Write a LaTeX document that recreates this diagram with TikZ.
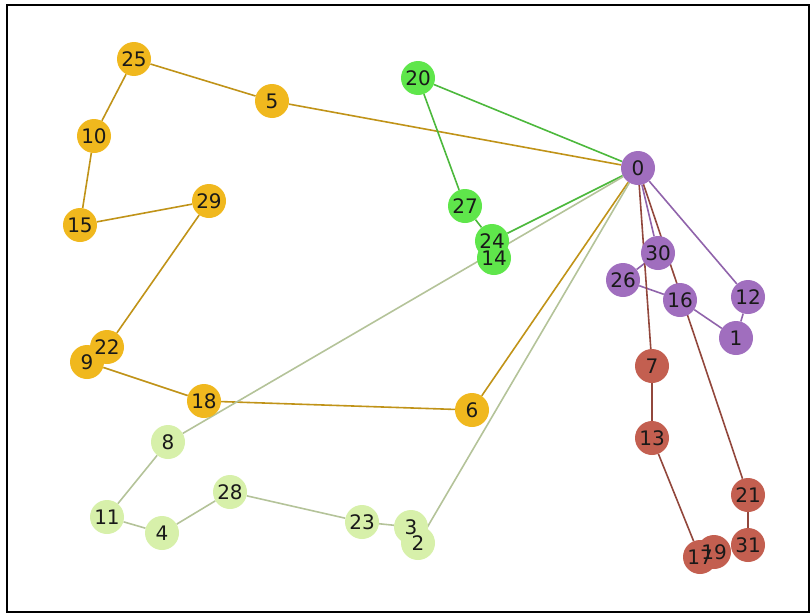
\documentclass[tikz,border=0pt]{standalone}
\usepackage{fontspec}
\setmainfont{DejaVu Sans}
\definecolor{cOrange}{RGB}{240,184,30}
\definecolor{cGreen}{RGB}{95,230,75}
\definecolor{cLight}{RGB}{215,240,170}
\definecolor{cPurple}{RGB}{160,110,190}
\definecolor{cRed}{RGB}{195,95,80}
\pgfdeclarelayer{bg}
\pgfsetlayers{bg,main}

\begin{document}
\begin{tikzpicture}[x=1pt,y=-1pt,
        vtx/.style={circle,inner sep=0pt,minimum size=34pt},
        orangenode/.style={vtx,fill=cOrange},
        greennode/.style={vtx,fill=cGreen},
        lightnode/.style={vtx,fill=cLight},
        purplenode/.style={vtx,fill=cPurple},
        rednode/.style={vtx,fill=cRed},
        vtxlabel/.style={font=\fontsize{20}{20}\selectfont,text=black!90},
        link/.style={line width=1.6pt},
        orangeedge/.style={link,draw=cOrange!80!black},
        greenedge/.style={link,draw=cGreen!80!black},
        lightedge/.style={link,draw=cLight!60!gray},
        purpleedge/.style={link,draw=cPurple!90!black},
        rededge/.style={link,draw=cRed!75!black}]

  \useasboundingbox (0,0) rectangle (810,613);
  \draw[line width=2.2pt] (7,5) rectangle (809,612);

  % orange group
  \node[orangenode] (n25) at (134,59)  {};
  \node[orangenode] (n5)  at (272,101) {};
  \node[orangenode] (n10) at (94,136)  {};
  \node[orangenode] (n15) at (80,225)  {};
  \node[orangenode] (n29) at (209,201) {};
  \node[orangenode] (n22) at (107,347) {};
  \node[orangenode] (n9)  at (87,362)  {};
  \node[orangenode] (n18) at (204,401) {};
  \node[orangenode] (n6)  at (472,410) {};

  % green group
  \node[greennode] (n20) at (418,78)  {};
  \node[greennode] (n27) at (465,206) {};
  \node[greennode] (n24) at (492,241) {};
  \node[greennode] (n14) at (494,258) {};

  % light green group
  \node[lightnode] (n8)  at (168,442) {};
  \node[lightnode] (n11) at (107,517) {};
  \node[lightnode] (n4)  at (162,533) {};
  \node[lightnode] (n28) at (230,492) {};
  \node[lightnode] (n23) at (362,522) {};
  \node[lightnode] (n3)  at (411,527) {};
  \node[lightnode] (n2)  at (418,543) {};

  % purple group
  \node[purplenode] (n0)  at (638,168) {};
  \node[purplenode] (n30) at (658,253) {};
  \node[purplenode] (n26) at (623,280) {};
  \node[purplenode] (n16) at (680,300) {};
  \node[purplenode] (n12) at (748,297) {};
  \node[purplenode] (n1)  at (736,338) {};

  % red group
  \node[rednode] (n7)  at (652,366) {};
  \node[rednode] (n13) at (652,438) {};
  \node[rednode] (n21) at (748,495) {};
  \node[rednode] (n31) at (748,545) {};
  \node[rednode] (n19) at (714,552) {};
  \node[rednode] (n17) at (700,557) {};

  % labels on top of all discs
  \foreach \n in {0,...,31}
    \node[vtxlabel] at (n\n) {\n};

  \begin{pgfonlayer}{bg}
  \path (n25) edge[orangeedge] (n5)
        (n5)  edge[orangeedge] (n0)
        (n25) edge[orangeedge] (n10)
        (n10) edge[orangeedge] (n15)
        (n15) edge[orangeedge] (n29)
        (n29) edge[orangeedge] (n22)
        (n9)  edge[orangeedge] (n18)
        (n18) edge[orangeedge] (n6)
        (n6)  edge[orangeedge] (n0);

  \path (n20) edge[greenedge] (n0)
        (n20) edge[greenedge] (n27)
        (n27) edge[greenedge] (n24)
        (n24) edge[greenedge] (n0);

  \path (n8)  edge[lightedge] (n0)
        (n8)  edge[lightedge] (n11)
        (n11) edge[lightedge] (n4)
        (n4)  edge[lightedge] (n28)
        (n28) edge[lightedge] (n23)
        (n23) edge[lightedge] (n3)
        (n2)  edge[lightedge] (n0);

  \path (n0)  edge[purpleedge] (n30)
        (n30) edge[purpleedge] (n26)
        (n26) edge[purpleedge] (n16)
        (n16) edge[purpleedge] (n1)
        (n1)  edge[purpleedge] (n12)
        (n12) edge[purpleedge] (n0);

  \path (n0)  edge[rededge] (n7)
        (n7)  edge[rededge] (n13)
        (n13) edge[rededge] (n17)
        (n0)  edge[rededge] (n21)
        (n21) edge[rededge] (n31)
        (n31) edge[rededge] (n19);
  \end{pgfonlayer}

\end{tikzpicture}
\end{document}
